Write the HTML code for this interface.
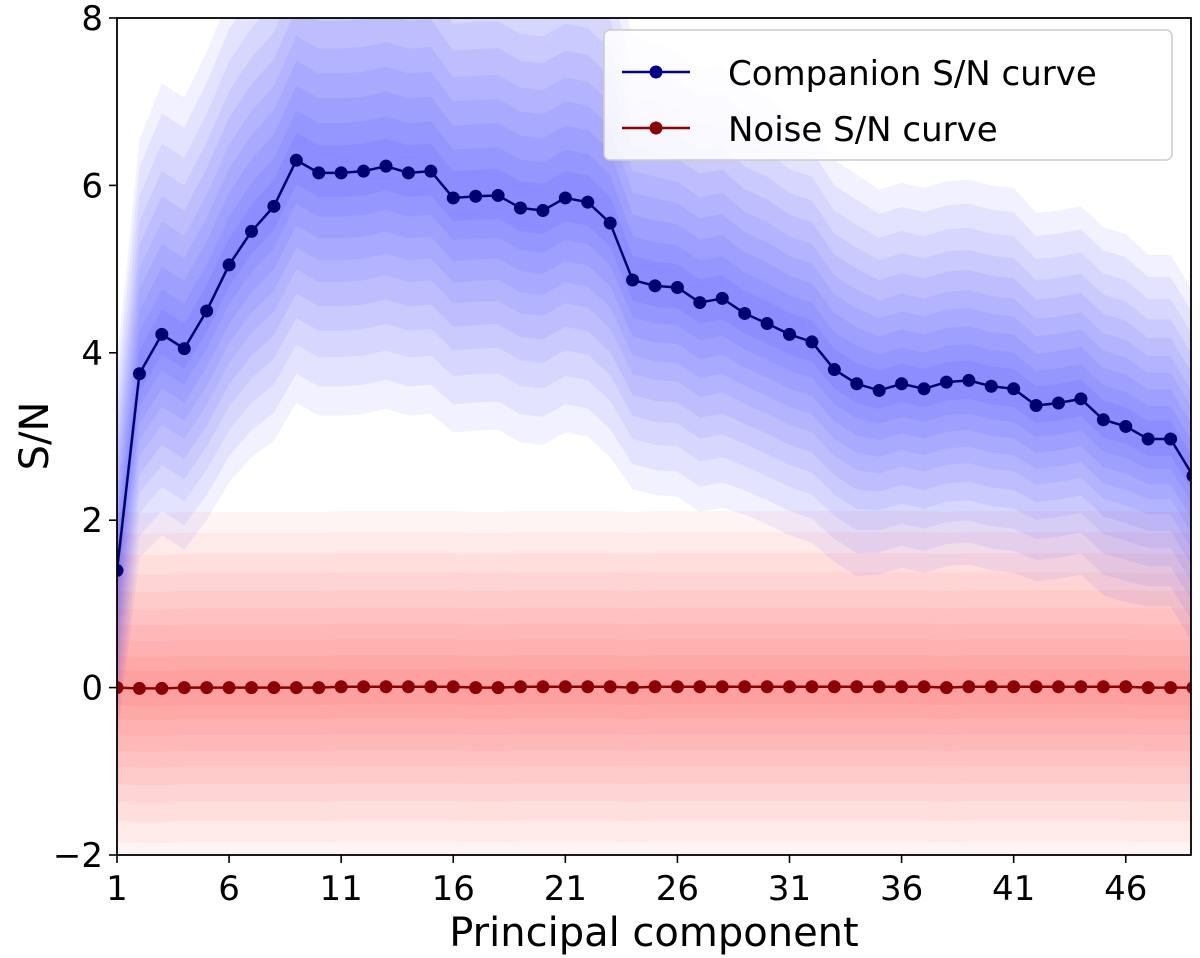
<!DOCTYPE html>
<html><head><meta charset="utf-8"><style>
body{margin:0;background:#fff;}
svg{display:block;font-family:"DejaVu Sans","Liberation Sans",sans-serif;}
</style></head><body>
<svg id="chart" width="1200" height="958">
<defs><clipPath id="clip"><rect x="117" y="18" width="1074" height="837"/></clipPath></defs>
<g id="bands" clip-path="url(#clip)"></g>
<g id="lines" clip-path="url(#clip)"></g>
<rect x="117" y="18" width="1074" height="837" fill="none" stroke="#000" stroke-width="1.8"/>
<g id="axes"></g>
<text x="654" y="946" font-size="40" text-anchor="middle">Principal component</text>
<text transform="translate(48,436) rotate(-90)" font-size="40" text-anchor="middle">S/N</text>
<g>
<rect x="604" y="30" width="568" height="130" rx="6" fill="#fff" fill-opacity="0.85" stroke="#ccc" stroke-width="1.5"/>
<line x1="622" y1="72" x2="690" y2="72" stroke="#00008b" stroke-width="2.5"/>
<circle cx="656" cy="72" r="6.5" fill="#00008b"/>
<text x="728" y="85" font-size="34">Companion S/N curve</text>
<line x1="622" y1="128" x2="690" y2="128" stroke="#8b0000" stroke-width="2.5"/>
<circle cx="656" cy="128" r="6.5" fill="#8b0000"/>
<text x="728" y="141" font-size="34">Noise S/N curve</text>
</g>
</svg>
<script>
const components=[1,2,3,4,5,6,7,8,9,10,11,12,13,14,15,16,17,18,19,20,21,22,23,24,25,26,27,28,29,30,31,32,33,34,35,36,37,38,39,40,41,42,43,44,45,46,47,48,49];
const companionSN=[1.4,3.75,4.22,4.05,4.5,5.05,5.45,5.75,6.3,6.15,6.15,6.17,6.23,6.15,6.17,5.85,5.87,5.88,5.73,5.7,5.85,5.8,5.55,4.87,4.8,4.78,4.6,4.65,4.47,4.35,4.22,4.13,3.8,3.63,3.55,3.63,3.57,3.65,3.67,3.6,3.57,3.37,3.4,3.45,3.2,3.12,2.97,2.97,2.53];
const noiseSN=[0,-0.01,-0.01,0,0,0,0,0,0,0,0.01,0.01,0.01,0.01,0.01,0.01,0,0,0.01,0.01,0.01,0.01,0.01,0,0.01,0.01,0.01,0.01,0.01,0.01,0.01,0.01,0.01,0.01,0.01,0.01,0.01,0,0.01,0.01,0.01,0.01,0.01,0.01,0.01,0.01,0,0,0];
const xTicks=[1,6,11,16,21,26,31,36,41,46];
const yTicks=[-2,0,2,4,6,8];
const companionUp=[2.5,2.8,3.0,3.0,3.1,3.2,3.2,3.2,3.3,3.3,3.3,3.3,3.3,3.3,3.3,3.2,3.2,3.2,3.2,3.2,3.2,3.2,3.2,2.9,2.9,2.8,2.8,2.8,2.7,2.7,2.6,2.6,2.5,2.5,2.4,2.4,2.4,2.4,2.4,2.4,2.4,2.3,2.3,2.3,2.3,2.3,2.2,2.2,2.2];
const companionDown=[2.0,2.2,2.4,2.4,2.5,2.6,2.7,2.8,2.9,2.9,2.9,2.9,2.9,2.9,2.9,2.8,2.8,2.8,2.8,2.8,2.8,2.8,2.8,2.5,2.5,2.5,2.5,2.5,2.4,2.4,2.4,2.4,2.3,2.3,2.2,2.2,2.2,2.2,2.2,2.2,2.2,2.1,2.1,2.1,2.1,2.1,2.0,2.0,2.0];
const noiseSpread=[2.1,2.1,2.1,2.1,2.1,2.1,2.1,2.1,2.1,2.1,2.1,2.1,2.1,2.1,2.1,2.1,2.1,2.1,2.1,2.1,2.1,2.1,2.1,2.1,2.1,2.1,2.1,2.1,2.1,2.1,2.1,2.1,2.1,2.1,2.1,2.1,2.1,2.1,2.1,2.1,2.1,2.1,2.1,2.1,2.1,2.1,2.1,2.1,2.1];
const X0=117,X1=1193,Y0=855,Y1=18;
const xs=v=>X0+(v-1)/(49-1)*(X1-X0);
const ys=v=>Y0-(v+2)/10*(Y0-Y1);
const NS="http://www.w3.org/2000/svg";
function mk(t,a,p){const e=document.createElementNS(NS,t);for(const k in a)e.setAttribute(k,a[k]);p.appendChild(e);return e;}
const bands=document.getElementById('bands');
function band(mean,up,down,color,op,name){
  const fr=[1,0.88,0.76,0.65,0.55,0.45,0.36,0.27,0.18,0.1];
  fr.forEach(f=>{
    let u=components.map((c,i)=>xs(c)+','+ys(mean[i]+up[i]*f));
    let d=components.map((c,i)=>xs(c)+','+ys(mean[i]-down[i]*f)).reverse();
    const p=mk('polygon',{points:u.concat(d).join(' '),fill:color,'fill-opacity':op},bands);
    
    
  });
}
band(noiseSN,noiseSpread,noiseSpread,'#ff0000',0.045,'noise-ensemble-band');
band(companionSN,companionUp,companionDown,'#0000ff',0.055,'companion-ensemble-band');
const lines=document.getElementById('lines');
function series(vals,color,name){
  const pl=mk('polyline',{points:components.map((c,i)=>xs(c)+','+ys(vals[i])).join(' '),fill:'none',stroke:color,'stroke-width':2.5},lines);
  
  
  components.forEach((c,i)=>{
    const m=mk('circle',{cx:xs(c),cy:ys(vals[i]),r:6.5,fill:color},lines);
    
    
  });
}
series(noiseSN,'#8b0000','noise');
series(companionSN,'#000070','companion');
const axes=document.getElementById('axes');
xTicks.forEach(t=>{
  const l=mk('line',{x1:xs(t),x2:xs(t),y1:Y0,y2:Y0+8,stroke:'#000','stroke-width':1.6},axes);
  
  
  const tx=mk('text',{x:xs(t),y:Y0+45,'font-size':34,'text-anchor':'middle'},axes);
  tx.textContent=t;
  
  
});
yTicks.forEach(t=>{
  const l=mk('line',{x1:X0-8,x2:X0,y1:ys(t),y2:ys(t),stroke:'#000','stroke-width':1.6},axes);
  
  
  const tx=mk('text',{x:X0-14,y:ys(t)+12,'font-size':34,'text-anchor':'end'},axes);
  tx.textContent=t<0?'\u2212'+(-t):t;
  
  
});
</script>
</body></html>
